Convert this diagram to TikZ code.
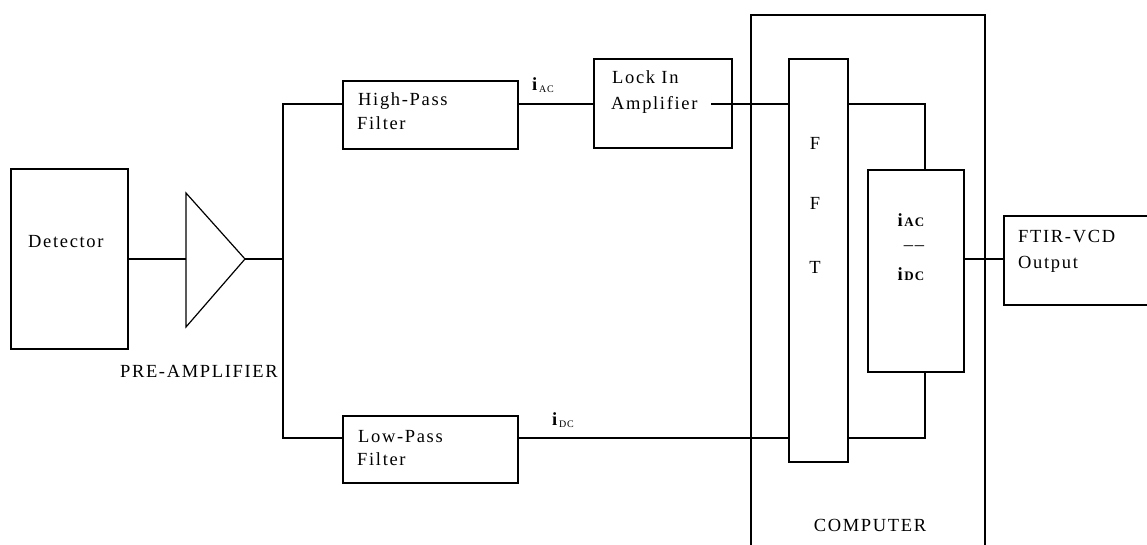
\documentclass[tikz,border=0pt]{standalone}
\usepackage{fontspec}
\setmainfont{Liberation Serif}[LetterSpace=9]
\begin{document}
\begin{tikzpicture}[x=1pt,y=-1pt,
  box/.style={draw,line width=1.2pt,inner sep=0pt,rectangle},
  wire/.style={line width=1.2pt},
  txt/.style={inner sep=0pt,anchor=west,font=\fontsize{18.5}{20}\selectfont},
  ctxt/.style={inner sep=0pt,font=\fontsize{18.5}{20}\selectfont}]
\useasboundingbox (0,0) rectangle (1147,545);
\clip (0,0) rectangle (1147,545);
% boxes
\node[box,minimum width=117pt,minimum height=180pt] (det) at (69.5,259) {};
\node[box,minimum width=175pt,minimum height=68pt] (hp) at (430.5,115) {};
\node[box,minimum width=175pt,minimum height=67pt] (lp) at (430.5,449.5) {};
\node[box,minimum width=138pt,minimum height=89pt] (li) at (663,103.5) {};
\node[box,minimum width=234pt,minimum height=545pt] (comp) at (868,287.5) {};
\node[box,minimum width=59pt,minimum height=403pt] (fft) at (818.5,260.5) {};
\node[box,minimum width=96pt,minimum height=202pt] (ratio) at (916,271) {};
\node[box,minimum width=156pt,minimum height=89pt] (ftir) at (1082,260.5) {};
% amplifier triangle
\coordinate (ampin) at (186,259);
\coordinate (amptip) at (245,259);
\draw[wire,line join=miter] (186,193) -- (amptip) -- (186,327) -- cycle;
% texts
\node[txt] (tdet) at (28,242) {Detector};
\node[txt,anchor=east] (tpre) at (278,371) {PRE-AMPLIFIER};
\node[txt] (thp1) at (358,101) {High-Pass};
\node[txt] (thp2) at (357,123) {Filter};
\node[txt] (tlp1) at (358,437) {Low-Pass};
\node[txt] (tlp2) at (357,459) {Filter};
\node[txt] (tli1) at (612,77) {Lock In};
\node[txt] (tli2) at (611,105) {Amplifier};
\node[txt] (tft1) at (1018,237) {FTIR-VCD};
\node[txt] (tft2) at (1018,264) {Output};
\node[ctxt] (tcomp) at (870,525) {COMPUTER};
\node[ctxt] (tf1) at (815,143) {F};
\node[ctxt] (tf2) at (815,203) {F};
\node[ctxt] (tf3) at (815,267) {T};
\node[txt] (iac) at (532,85) {\textbf{i}\raisebox{-1.5pt}{\fontsize{10}{10}\selectfont AC}};
\node[txt] (idc) at (552,420) {\textbf{i}\raisebox{-1.5pt}{\fontsize{10}{10}\selectfont DC}};
\node[ctxt] (riac) at (911,220) {\textbf{i}{\fontsize{13}{13}\selectfont\bfseries AC}};
\node[ctxt] (rdash) at (914,248) {\textendash\textendash};
\node[ctxt] (ridc) at (911,274) {\textbf{i}{\fontsize{13}{13}\selectfont\bfseries DC}};
% connectors
\coordinate (bm) at (283,259);
\coordinate (bt) at (283,104);
\coordinate (bb) at (283,438);
\coordinate (lio) at (711,104);
\coordinate (rt) at (925,104);
\coordinate (ol) at (970,259);
\draw[wire] (det.east |- ampin) -- (ampin);
\draw[wire] (amptip) -- (bm);
\draw[wire] (bt -| hp.west) -- (bt) -- (bb) -- (bb -| lp.west);
\draw[wire] (hp.east |- bt) -- (li.west |- bt);
\draw[wire] (lio) -- (lio -| fft.west);
\draw[wire] (lp.east |- bb) -- (fft.west |- bb);
\draw[wire] (fft.east |- rt) -- (rt) -- (rt |- ratio.north);
\draw[wire] (rt |- ratio.south) -- (rt |- bb) -- (fft.east |- bb);
\draw[wire] (ratio.east |- ol) -- (ftir.west |- ol);
\end{tikzpicture}
\end{document}
